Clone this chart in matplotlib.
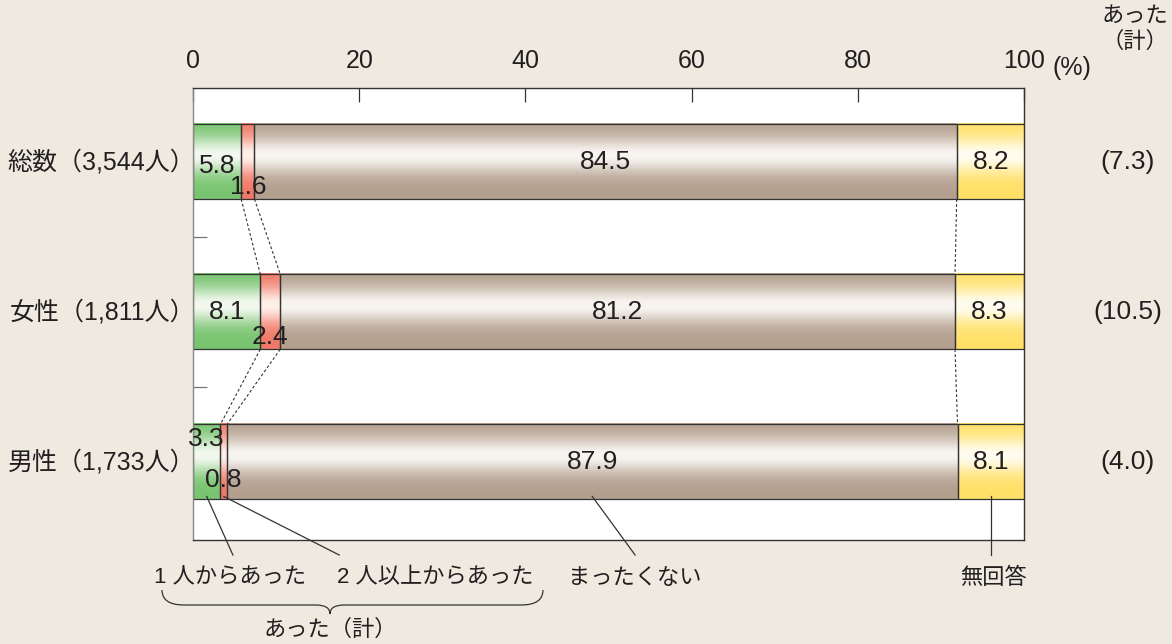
import matplotlib
matplotlib.use("Agg")
import matplotlib.pyplot as plt
import numpy as np
from matplotlib.colors import LinearSegmentedColormap
from matplotlib.path import Path
from matplotlib.patches import PathPatch

plt.rcParams['font.family'] = ['Liberation Sans', 'Noto Sans CJK JP', 'DejaVu Sans']

# data
categories = ["総数（3,544人）", "女性（1,811人）", "男性（1,733人）"]
one_person = [5.8, 8.1, 3.3]
two_or_more = [1.6, 2.4, 0.8]
never = [84.5, 81.2, 87.9]
no_answer = [8.2, 8.3, 8.1]
total_had = ["(7.3)", "(10.5)", "(4.0)"]
series_names = ["1 人からあった", "2 人以上からあった", "まったくない", "無回答"]
xticks = [0, 20, 40, 60, 80, 100]

W, H = 1172, 644
bg = "#efeae0"
dark = "#333333"
txt = "#231f20"

# (edge colour, light centre colour) for each series
shades = [("#78c470", "#f3f9ef"), ("#f07868", "#fff0ea"),
          ("#b39f8e", "#f8f5f1"), ("#ffe066", "#fffdf0")]

fig = plt.figure(figsize=(W / 100, H / 100), dpi=100, facecolor=bg)
ax = fig.add_axes([193 / W, 1 - 540 / H, (1024 - 193) / W, (540 - 88) / H])
ax.set_facecolor("white")

# vertical gradient profile: dark at the edges, light just above the middle
t = np.linspace(0, 1, 200)
prof = np.exp(-((t - 0.42) / 0.24) ** 2)
grad = prof[:, None]

series = [one_person, two_or_more, never, no_answer]
bh = 0.5
ypos = np.arange(len(categories))

lefts = np.zeros(len(categories))
bounds = []
for k, vals in enumerate(series):
    vals = np.array(vals)
    cmap = LinearSegmentedColormap.from_list("g%d" % k, list(shades[k]))
    for i, y in enumerate(ypos):
        ax.imshow(grad, extent=[lefts[i], lefts[i] + vals[i], y + bh / 2, y - bh / 2],
                  cmap=cmap, vmin=0, vmax=1, aspect="auto", zorder=1,
                  interpolation="bilinear")
    ax.barh(ypos, vals, left=lefts, height=bh, facecolor="none",
            edgecolor=dark, linewidth=0.9, zorder=2)
    lefts = lefts + vals
    bounds.append(lefts.copy())

# dashed connectors between bars
for b in bounds[:3]:
    for i in range(len(ypos) - 1):
        ax.plot([b[i], b[i + 1]], [ypos[i] + bh / 2, ypos[i + 1] - bh / 2],
                color=dark, lw=0.8, ls=(0, (2.5, 2)), zorder=3)

# value labels
nfs = 19
green_dy = [0.03, 0.0, -0.15]
red_dy = [0.17, 0.17, 0.12]
for i, y in enumerate(ypos):
    g, r, n, a = one_person[i], two_or_more[i], never[i], no_answer[i]
    ax.text(g / 2, y + green_dy[i], f"{g}", ha="center", va="center", fontsize=nfs, color=txt, zorder=4)
    ax.text(g + r / 2, y + red_dy[i], f"{r}", ha="center", va="center", fontsize=nfs, color=txt, zorder=4)
    ax.text(g + r + n / 2, y, f"{n}", ha="center", va="center", fontsize=nfs, color=txt, zorder=4)
    ax.text(g + r + n + a / 2, y, f"{a}", ha="center", va="center", fontsize=nfs, color=txt, zorder=4)

ax.set_xlim(0, 100)
ax.set_ylim(2.52, -0.49)

ax.xaxis.tick_top()
ax.set_xticks(xticks)
ax.set_xticklabels([str(v) for v in xticks])
ax.tick_params(axis="x", direction="in", length=10, width=0.9, color=dark,
               labelsize=18, pad=11, labelcolor=txt)
ax.set_yticks([0.5, 1.5])
ax.set_yticklabels([])
ax.tick_params(axis="y", direction="in", length=10, width=0.9, color="#777")
for s in ax.spines.values():
    s.set_color(dark)
    s.set_linewidth(1.0)
ax.spines["left"].set_color("#888")

fig.text(1053 / W, 1 - 68 / H, "(%)", ha="left", va="center", fontsize=18, color=txt)
fig.text(1135 / W, 1 - 16 / H, "あった", ha="center", va="center", fontsize=16, color=txt)
fig.text(1135 / W, 1 - 42 / H, "（計）", ha="center", va="center", fontsize=16, color=txt)

# category labels and totals
for i, y in enumerate(ypos):
    ax.text(0.3, y, categories[i], ha="right", va="center", fontsize=18,
            color=txt, clip_on=False)
    ax.text(112.5, y, total_had[i], ha="center", va="center", fontsize=19,
            color=txt, clip_on=False)

# leader lines to the last bar
last = len(ypos) - 1
g, r, n, a = one_person[last], two_or_more[last], never[last], no_answer[last]
targets = [(g / 2, 4.8), (g + r / 2, 17.6), (g + r + n / 2, 53.2), (g + r + n + a / 2, g + r + n + a / 2)]
tx_pos = [(230, 578), (435, 578), (635, 578), (993, 578)]
for k, (xe, xs) in enumerate(targets):
    ax.plot([xs, xe], [ypos[last] + 0.62, ypos[last] + 0.23], color=dark, lw=0.9,
            clip_on=False, zorder=5)
    fig.text(tx_pos[k][0] / W, 1 - tx_pos[k][1] / H, series_names[k], ha="center",
             va="center", fontsize=16, color=txt)

# brace under the first two labels
x0, x1, xm = 162, 543, 330
yt, yb, ytip = 590, 605, 614
verts = [(x0, yt), (x0, yb), (x0 + 22, yb), (xm - 14, yb), (xm, yb), (xm, ytip),
         (xm, ytip), (xm, yb), (xm + 14, yb), (x1 - 22, yb), (x1, yb), (x1, yt)]
codes = [Path.MOVETO, Path.CURVE3, Path.CURVE3, Path.LINETO, Path.CURVE3, Path.CURVE3,
         Path.MOVETO, Path.CURVE3, Path.CURVE3, Path.LINETO, Path.CURVE3, Path.CURVE3]
verts = [(x / W, 1 - y / H) for x, y in verts]
fig.add_artist(PathPatch(Path(verts, codes), transform=fig.transFigure,
                         facecolor="none", edgecolor=dark, lw=0.9))
fig.text(330 / W, 1 - 630 / H, "あった（計）", ha="center", va="center", fontsize=16, color=txt)

fig.savefig("out.png", dpi=100, facecolor=bg)
